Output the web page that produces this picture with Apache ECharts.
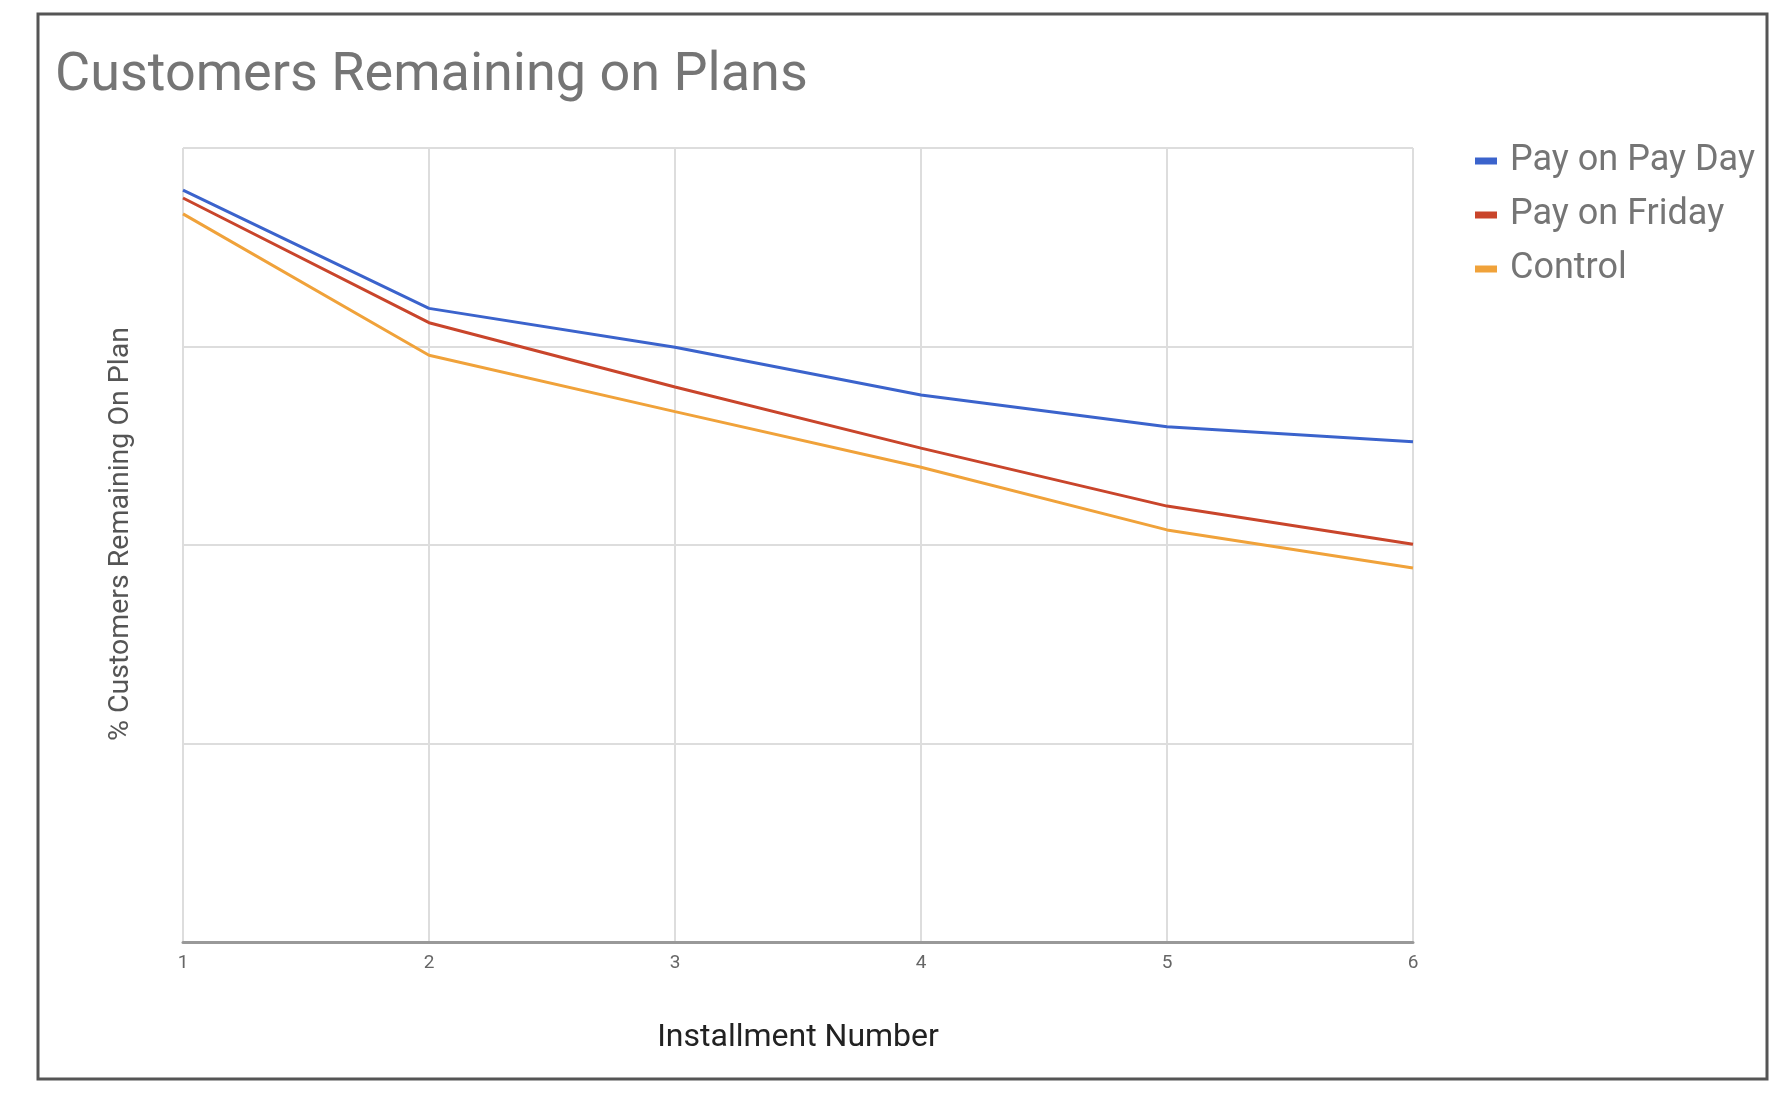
<!DOCTYPE html>
<html>
<head>
<meta charset="utf-8">
<script src="https://cdn.jsdelivr.net/npm/echarts@6/dist/echarts.min.js"></script>
<style>
html,body{margin:0;padding:0;background:#fff;}
#chart{width:1786px;height:1102px;}
</style>
</head>
<body>
<div id="chart"></div>
<script>
const installments = ['1', '2', '3', '4', '5', '6'];
const payOnPayDay = [94.7, 79.8, 74.9, 68.9, 64.9, 63.0];
const payOnFriday = [93.7, 78.0, 69.9, 62.2, 54.9, 50.1];
const control = [91.7, 73.9, 66.8, 59.8, 51.9, 47.1];
const seriesNames = ['Pay on Pay Day', 'Pay on Friday', 'Control'];
const seriesColors = ['#3b63cc', '#c9452b', '#f0a23a'];

const chart = echarts.init(document.getElementById('chart'));
const font = 'Roboto, "Noto Sans", sans-serif';
const dataSets = [payOnPayDay, payOnFriday, control];

chart.setOption({
  backgroundColor: '#fff',
  animation: false,
  textStyle: { fontFamily: font },
  title: {
    text: 'Customers Remaining on Plans',
    left: 50,
    top: 44,
    textStyle: { fontSize: 54, fontWeight: 'normal', color: '#757575', fontFamily: font }
  },
  legend: {
    orient: 'vertical',
    left: 1470,
    top: 138,
    itemWidth: 22,
    itemHeight: 7,
    itemGap: 18,
    icon: 'rect',
    data: seriesNames,
    textStyle: { fontSize: 36, lineHeight: 36, color: '#757575', fontFamily: font, padding: [0, 0, 0, 8] }
  },
  graphic: [
    {
      type: 'rect',
      shape: { x: 38, y: 14, width: 1729, height: 1065 },
      style: { fill: 'none', stroke: '#555', lineWidth: 3 },
      silent: true,
      z: 100
    }
  ],
  grid: { left: 183, right: 373, top: 148, bottom: 160 },
  xAxis: {
    type: 'category',
    data: installments,
    boundaryGap: false,
    name: 'Installment Number',
    nameLocation: 'middle',
    nameGap: 80,
    nameTextStyle: { fontSize: 32, color: '#222', fontFamily: font },
    axisLine: { lineStyle: { color: '#999', width: 3 } },
    axisTick: { show: false },
    axisLabel: { fontSize: 19, color: '#666', margin: 12 },
    splitLine: { show: true, lineStyle: { color: '#ddd', width: 2 } }
  },
  yAxis: {
    type: 'value',
    min: 0,
    max: 100,
    interval: 25,
    name: '% Customers Remaining On Plan',
    nameLocation: 'middle',
    nameGap: 48,
    nameTextStyle: { fontSize: 28.5, color: '#555', fontFamily: font, padding: [0, 0, 0, 22] },
    axisLine: { show: false },
    axisTick: { show: false },
    axisLabel: { show: false },
    splitLine: { show: true, lineStyle: { color: '#ddd', width: 2 } }
  },
  series: seriesNames.map((n, i) => ({
    name: n,
    type: 'line',
    data: dataSets[i],
    symbol: 'none',
    showSymbol: false,
    color: seriesColors[i],
    lineStyle: { width: 3, color: seriesColors[i] },
    itemStyle: { color: seriesColors[i] }
  }))
});
</script>
</body>
</html>
